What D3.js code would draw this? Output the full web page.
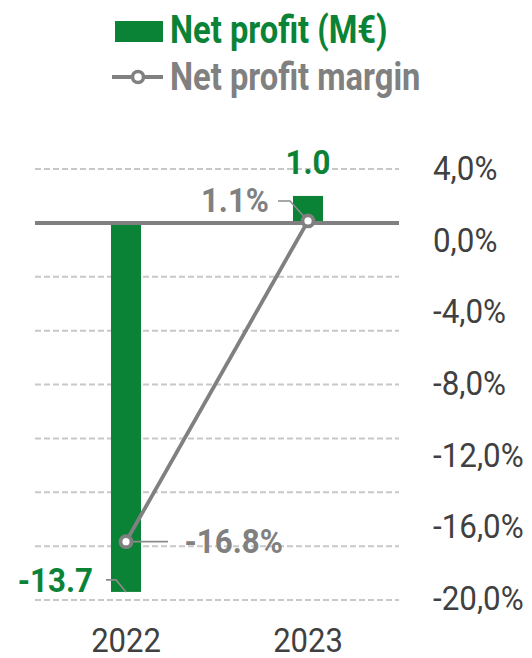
<!DOCTYPE html>
<html>
<head>
<meta charset="utf-8">
<script src="https://cdn.jsdelivr.net/npm/d3@7"></script>
<style>
  html, body { margin: 0; padding: 0; background: #fff; }
  svg { display: block; font-family: Roboto, "Noto Sans", sans-serif; }
</style>
</head>
<body>
<div id="chart"></div>
<script>
(function () {
  // data
  const years = ["2022", "2023"];
  const netProfit = [-13.7, 1.0];
  const profitMargin = [-16.8, 1.1];
  const barTicks = [2, 0, -2, -4, -6, -8, -10, -12, -14];
  const pctTicks = [4, 0, -4, -8, -12, -16, -20];

  const width = 532;
  const height = 658;
  const green = "#0b8337";
  const grey = "#808080";
  const axisText = "#404040";

  // plain hyphen as minus sign, like the original
  const dotFmt = d3.formatLocale({ decimal: ".", thousands: ",", grouping: [3], currency: ["", "€"], minus: "-" }).format(".1f");
  const commaFmt = d3.formatLocale({ decimal: ",", thousands: ".", grouping: [3], currency: ["", "€"], minus: "-" }).format(".1f");

  const svg = d3.select("#chart")
    .append("svg")
    .attr("width", width)
    .attr("height", height);

  const x = d3.scaleBand().domain(years).range([35, 399]);
  const yBar = d3.scaleLinear().domain([2, -14]).range([169, 600]);
  const yPct = d3.scaleLinear().domain([4, -20]).range([169, 599]);
  const barW = x.bandwidth() * 0.165;
  const cx = d => x(d) + x.bandwidth() / 2;

  // squeeze Roboto a bit so it looks like the condensed face of the original
  function condense(sel, k) {
    sel.each(function () {
      const w = this.getComputedTextLength();
      d3.select(this).attr("textLength", w * k).attr("lengthAdjust", "spacingAndGlyphs");
    });
  }

  // dashed grid
  svg.append("g")
    .selectAll("line")
    .data(barTicks.filter(d => d !== 0))
    .enter()
    .append("line")
    .attr("x1", 35)
    .attr("x2", 399)
    .attr("y1", d => yBar(d))
    .attr("y2", d => yBar(d))
    .attr("stroke", "#c8c8c8")
    .attr("stroke-width", 2)
    .attr("stroke-dasharray", "6,3");

  // bars
  const rows = years.map((y, i) => ({ year: y, profit: netProfit[i], margin: profitMargin[i] }));

  svg.append("g")
    .selectAll("rect")
    .data(rows)
    .enter()
    .append("rect")
    .attr("x", d => cx(d.year) - barW / 2)
    .attr("width", barW)
    .attr("y", d => Math.min(yBar(d.profit), yBar(0)))
    .attr("height", d => Math.abs(yBar(d.profit) - yBar(0)))
    .attr("fill", green);

  // zero line
  svg.append("line")
    .attr("x1", 35)
    .attr("x2", 399)
    .attr("y1", yBar(0))
    .attr("y2", yBar(0))
    .attr("stroke", grey)
    .attr("stroke-width", 4);

  // leader lines
  const leaders = svg.append("g")
    .attr("fill", "none")
    .attr("stroke", "#8c8c8c")
    .attr("stroke-width", 1.6);

  rows.forEach(d => {
    const bx = cx(d.year);
    const py = yPct(d.margin);
    if (d.year === "2022") {
      const by = yBar(d.profit);
      leaders.append("path").attr("d", `M${bx - 20},${by - 12}H${bx - 10}L${bx},${by}`);
      leaders.append("path").attr("d", `M${bx},${py}H${bx + 42}`);
    } else {
      leaders.append("path").attr("d", `M${bx - 30},${py - 20}H${bx - 18}L${bx},${py}`);
    }
  });

  // margin line
  svg.append("path")
    .datum(rows)
    .attr("fill", "none")
    .attr("stroke", grey)
    .attr("stroke-width", 3.8)
    .attr("d", d3.line().x(d => cx(d.year)).y(d => yPct(d.margin)));

  svg.append("g")
    .selectAll("circle")
    .data(rows)
    .enter()
    .append("circle")
    .attr("cx", d => cx(d.year))
    .attr("cy", d => yPct(d.margin))
    .attr("r", 5.5)
    .attr("fill", "#fff")
    .attr("stroke", grey)
    .attr("stroke-width", 3.8);

  // bar value labels
  svg.append("g")
    .selectAll("text")
    .data(rows)
    .enter()
    .append("text")
    .attr("x", d => d.profit < 0 ? cx(d.year) - 33 : cx(d.year))
    .attr("y", d => d.profit < 0 ? yBar(d.profit) : yBar(d.profit) - 22)
    .attr("text-anchor", d => d.profit < 0 ? "end" : "middle")
    .attr("fill", green)
    .style("font-size", "34px")
    .style("font-weight", "bold")
    .text(d => dotFmt(d.profit))
    .call(condense, 0.92);

  // margin value labels
  svg.append("g")
    .selectAll("text")
    .data(rows)
    .enter()
    .append("text")
    .attr("x", d => d.margin < 0 ? cx(d.year) + 58.5 : cx(d.year) - 39)
    .attr("y", d => d.margin < 0 ? yPct(d.margin) + 11.5 : yPct(d.margin) - 8.5)
    .attr("text-anchor", d => d.margin < 0 ? "start" : "end")
    .attr("fill", grey)
    .style("font-size", "34px")
    .style("font-weight", "bold")
    .text(d => dotFmt(d.margin) + "%")
    .call(condense, 0.92);

  // right axis
  const yAxis = svg.append("g")
    .attr("transform", "translate(433,0)")
    .call(d3.axisRight(yPct)
      .tickValues(pctTicks)
      .tickSize(0)
      .tickPadding(0)
      .tickFormat(d => commaFmt(d) + "%"));
  yAxis.select(".domain").remove();
  yAxis.selectAll("text")
    .attr("fill", axisText)
    .style("font-size", "33px")
    .style("font-family", "Roboto, sans-serif")
    .call(condense, 0.95);

  // x axis
  const xAxis = svg.append("g")
    .attr("transform", "translate(0,629)")
    .call(d3.axisBottom(x).tickSize(0).tickPadding(0));
  xAxis.select(".domain").remove();
  xAxis.selectAll("text")
    .attr("fill", axisText)
    .style("font-size", "33px")
    .style("font-family", "Roboto, sans-serif")
    .call(condense, 0.94);

  // legend
  const legend = svg.append("g");
  legend.append("rect")
    .attr("x", 115)
    .attr("y", 21)
    .attr("width", 48)
    .attr("height", 21)
    .attr("fill", green);
  legend.append("line")
    .attr("x1", 112)
    .attr("x2", 163)
    .attr("y1", 77)
    .attr("y2", 77)
    .attr("stroke", grey)
    .attr("stroke-width", 4);
  legend.append("circle")
    .attr("cx", 138)
    .attr("cy", 77)
    .attr("r", 5.5)
    .attr("fill", "#fff")
    .attr("stroke", grey)
    .attr("stroke-width", 3.5);
  legend.selectAll("text")
    .data([
      { label: "Net profit (M€)", color: green, y: 43 },
      { label: "Net profit margin", color: grey, y: 90 }
    ])
    .enter()
    .append("text")
    .attr("x", 170)
    .attr("y", d => d.y)
    .attr("fill", d => d.color)
    .style("font-size", "38px")
    .style("font-weight", "bold")
    .text(d => d.label)
    .call(condense, 0.86);
})();
</script>
</body>
</html>
